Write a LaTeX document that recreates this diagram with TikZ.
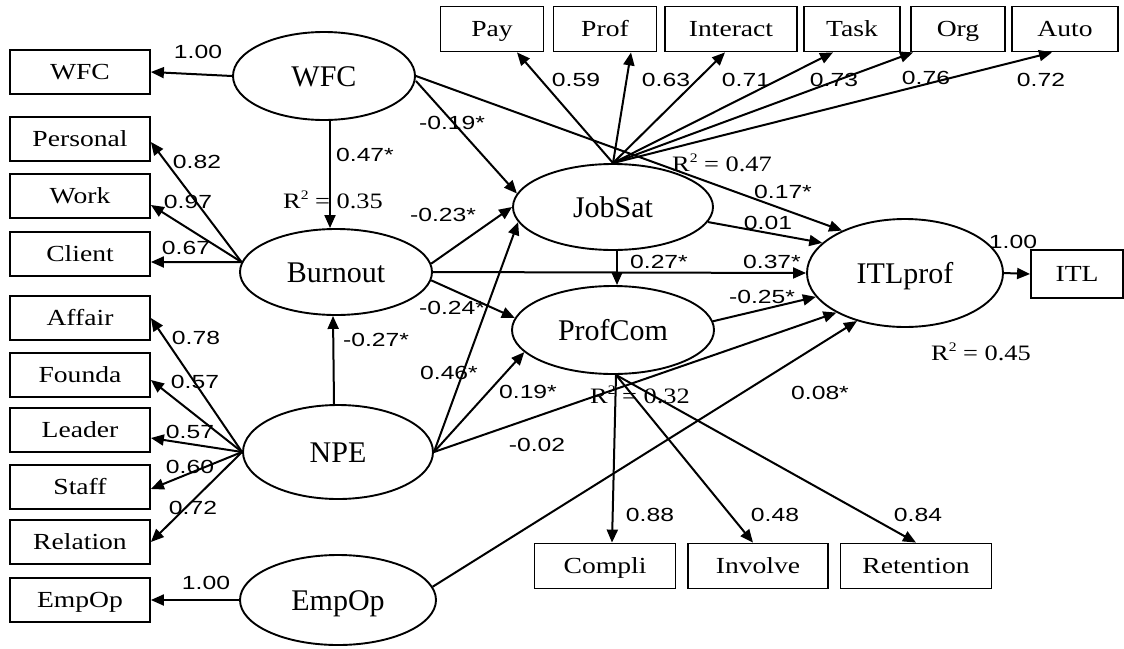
\documentclass[tikz,border=0pt]{standalone}
\usepackage{fontspec}
\setmainfont{Liberation Serif}
\newfontfamily\boxfont[FakeStretch=1.2]{Liberation Serif}
\newfontfamily\numfont[FakeStretch=1.3]{Liberation Sans}
\usetikzlibrary{shapes.geometric,arrows.meta}
\newcommand\rsup[1]{\raisebox{0.42em}{\fontsize{13}{13}\selectfont #1}}
\begin{document}
\begin{tikzpicture}[x=1pt,y=-1pt,
 lat/.style={ellipse,draw,line width=1.9pt,inner sep=0pt,text height=20pt,text depth=0pt,font=\fontsize{30}{30}\selectfont},
 obs/.style={rectangle,draw,line width=1.8pt,inner sep=0pt,text height=15.5pt,text depth=0pt,font=\boxfont\fontsize{23}{23}\selectfont},
 lbox/.style={obs,minimum width=140pt,minimum height=44pt},
 tbox/.style={obs,minimum height=45pt},
 arr/.style={line width=2pt,-{Triangle[length=13pt,width=11pt]}},
 num/.style={inner sep=0pt,font=\numfont\fontsize{19}{19}\selectfont},
 rsq/.style={inner sep=0pt,font=\boxfont\fontsize{22}{22}\selectfont}]
\useasboundingbox (0,0) rectangle (1124,648);

% latent variables
\node[lat,minimum width=182pt,minimum height=88pt] (lwfc) at (324,76) {WFC};
\node[lat,minimum width=192pt,minimum height=86pt] (lburn) at (336,272) {Burnout};
\node[lat,minimum width=190pt,minimum height=94pt] (lnpe) at (338,452) {NPE};
\node[lat,minimum width=196pt,minimum height=90pt] (lemp) at (338,600) {EmpOp};
\node[lat,minimum width=200pt,minimum height=86pt] (ljob) at (613,207) {JobSat};
\node[lat,minimum width=202pt,minimum height=88pt] (lprof) at (613,330) {ProfCom};
\node[lat,minimum width=196pt,minimum height=108pt] (litl) at (905,273) {ITLprof};

% left indicators
\node[lbox] (bwfc) at (80,72) {WFC};
\node[lbox] (bpers) at (80,139) {Personal};
\node[lbox] (bwork) at (80,196) {Work};
\node[lbox] (bclient) at (80,254) {Client};
\node[lbox] (baffair) at (80,318) {Affair};
\node[lbox] (bfounda) at (80,375) {Founda};
\node[lbox] (bleader) at (80,430) {Leader};
\node[lbox] (bstaff) at (80,487) {Staff};
\node[lbox] (brel) at (80,542) {Relation};
\node[lbox] (bemp) at (80,600) {EmpOp};

% top indicators
\node[tbox,minimum width=103pt] (bpay) at (492,29) {Pay};
\node[tbox,minimum width=103pt] (bprof) at (605,29) {Prof};
\node[tbox,minimum width=132pt] (binter) at (731,29) {Interact};
\node[tbox,minimum width=96pt] (btask) at (852,29) {Task};
\node[tbox,minimum width=94pt] (borg) at (958,29) {Org};
\node[tbox,minimum width=106pt] (bauto) at (1065,29) {Auto};

% right and bottom indicators
\node[obs,minimum width=92pt,minimum height=48pt] (bitl) at (1077,274) {ITL};
\node[tbox,minimum width=141pt] (bcompli) at (605,566) {Compli};
\node[tbox,minimum width=140pt] (binvolve) at (758,566) {Involve};
\node[tbox,minimum width=151pt] (bret) at (916,566) {Retention};

% measurement arrows
\draw[arr] (lwfc.west) -- (bwfc.east);
\draw[arr] (lburn.174) -- ([yshift=-3pt]bpers.east);
\draw[arr] (lburn.174) -- ([yshift=-9pt]bwork.east);
\draw[arr] (lburn.174) -- ([yshift=-8pt]bclient.east);
\draw[arr] (lnpe.west) -- (baffair.east);
\draw[arr] (lnpe.west) -- ([yshift=-5pt]bfounda.east);
\draw[arr] (lnpe.west) -- ([yshift=-8pt]bleader.east);
\draw[arr] (lnpe.west) -- ([yshift=-2pt]bstaff.east);
\draw[arr] (lnpe.west) -- (brel.east);
\draw[arr] (lemp.west) -- (bemp.east);
\draw[arr] (ljob.north) -- ([xshift=25pt]bpay.south);
\draw[arr] (ljob.north) -- ([xshift=26pt]bprof.south);
\draw[arr] (ljob.north) -- ([xshift=-6pt]binter.south);
\draw[arr] (ljob.north) -- ([xshift=-19pt]btask.south);
\draw[arr] (ljob.north) -- ([xshift=-45pt]borg.south);
\draw[arr] (ljob.north) -- ([xshift=-13pt]bauto.south);
\draw[arr] ([xshift=3pt]lprof.south) -- ([xshift=7pt]bcompli.north);
\draw[arr] ([xshift=3pt]lprof.south) -- ([xshift=-5pt]binvolve.north);
\draw[arr] ([xshift=3pt]lprof.south) -- (bret.north);
\draw[arr] (litl.east) -- (bitl.west);

% structural paths
\draw[arr] ([xshift=6pt]lwfc.south) -- ([xshift=-6pt]lburn.north);
\draw[arr] ([xshift=-4pt]lnpe.north) -- ([xshift=-3pt]lburn.south);
\draw[arr] ([yshift=-5pt]lwfc.east) -- (ljob.172);
\draw[arr] (lwfc.east) -- (litl.146);
\draw[arr] (lburn.5) -- (ljob.west);
\draw[arr] (lburn.east) -- (litl.west);
\draw[arr] (lburn.-5) -- (lprof.173);
\draw[arr] ([xshift=4pt]ljob.south) -- ([xshift=4pt]lprof.north);
\draw[arr] (ljob.-9) -- (litl.160);
\draw[arr] (lprof.5) -- (litl.195);
\draw[arr] (lnpe.east) -- (ljob.189);
\draw[arr] (lnpe.east) -- (lprof.194);
\draw[arr] (lnpe.east) -- (litl.210);
\draw[arr] (lemp.8) -- (litl.225);

% coefficient labels
\node[num] (n1) at (198,52) {1.00};
\node[num] (n2) at (365,155) {0.47*};
\node[rsq] (r1) at (333,200) {R\rsup{2} = 0.35};
\node[num] (n3) at (197,162) {0.82};
\node[num] (n4) at (188,202) {0.97};
\node[num] (n5) at (186,248) {0.67};
\node[num] (n6) at (196,338) {0.78};
\node[num] (n7) at (195,382) {0.57};
\node[num] (n8) at (376,340) {-0.27*};
\node[num] (n9) at (190,432) {0.57};
\node[num] (n10) at (190,467) {0.60};
\node[num] (n11) at (193,508) {0.72};
\node[num] (n12) at (206,583) {1.00};
\node[num] (n13) at (452,123) {-0.19*};
\node[num] (n14) at (576,80) {0.59};
\node[num] (n15) at (666,80) {0.63};
\node[num] (n16) at (746,80) {0.71};
\node[num] (n17) at (834,80) {0.73};
\node[num] (n18) at (926,78) {0.76};
\node[num] (n19) at (1041,80) {0.72};
\node[rsq] (r2) at (722,163) {R\rsup{2} = 0.47};
\node[num] (n20) at (783,192) {0.17*};
\node[num] (n21) at (768,223) {0.01};
\node[num] (n22) at (443,215) {-0.23*};
\node[num] (n23) at (659,262) {0.27*};
\node[num] (n24) at (772,262) {0.37*};
\node[num] (n25) at (452,308) {-0.24*};
\node[num] (n26) at (762,297) {-0.25*};
\node[num] (n27) at (449,373) {0.46*};
\node[num] (n28) at (528,392) {0.19*};
\node[rsq] (r3) at (640,395) {R\rsup{2} = 0.32};
\node[num] (n29) at (537,445) {-0.02};
\node[num] (n30) at (820,393) {0.08*};
\node[num] (n31) at (650,515) {0.88};
\node[num] (n32) at (775,515) {0.48};
\node[num] (n33) at (918,515) {0.84};
\node[num] (n34) at (1013,242) {1.00};
\node[rsq] (r4) at (981,352) {R\rsup{2} = 0.45};
\end{tikzpicture}
\end{document}
